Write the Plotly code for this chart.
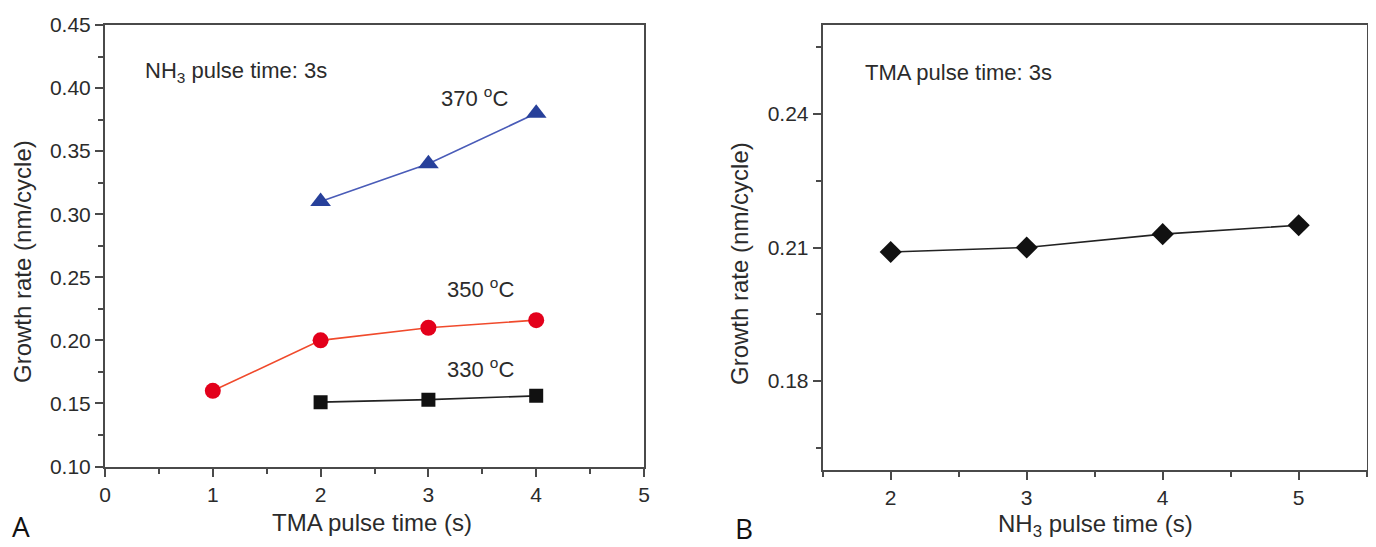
import plotly.graph_objects as go

# Panel A data
tma_x_370 = [2, 3, 4]
rate_370 = [0.31, 0.34, 0.38]
tma_x_350 = [1, 2, 3, 4]
rate_350 = [0.16, 0.20, 0.21, 0.216]
tma_x_330 = [2, 3, 4]
rate_330 = [0.151, 0.153, 0.156]

# Panel B data
nh3_x = [2, 3, 4, 5]
rate_b = [0.209, 0.210, 0.213, 0.215]

FONT = "Liberation Sans, Arial, sans-serif"
TXT = "#2b2b2b"
AX = "#4a4a4a"

fig = go.Figure()
fig.add_trace(go.Scatter(x=tma_x_370, y=rate_370, mode="lines+markers",
                         line=dict(color="#4a5cb8", width=1.6),
                         marker=dict(symbol="triangle-up", size=18, color="#27409a"),
                         xaxis="x", yaxis="y", showlegend=False))
fig.add_trace(go.Scatter(x=tma_x_350, y=rate_350, mode="lines+markers",
                         line=dict(color="#f04a2c", width=1.6),
                         marker=dict(symbol="circle", size=16, color="#e3001b"),
                         xaxis="x", yaxis="y", showlegend=False))
fig.add_trace(go.Scatter(x=tma_x_330, y=rate_330, mode="lines+markers",
                         line=dict(color="#222222", width=1.6),
                         marker=dict(symbol="square", size=14, color="#111111"),
                         xaxis="x", yaxis="y", showlegend=False))
fig.add_trace(go.Scatter(x=nh3_x, y=rate_b, mode="lines+markers",
                         line=dict(color="#222222", width=1.6),
                         marker=dict(symbol="diamond", size=17, color="#111111"),
                         xaxis="x2", yaxis="y2", showlegend=False))

# page body has an 8px margin; compensate
OFF = 8
W, H = 1376 - OFF, 547 - OFF

def px(x):
    return (x - OFF) / W

def py(y):
    return 1 - (y - OFF) / H

dA_x = [px(105), px(644)]
dA_y = [py(466.5), py(25)]
dB_x = [px(822.7), px(1366.7)]
dB_y = [py(470), py(25)]

tickfont = dict(family=FONT, size=21, color=TXT)

def main_axis(**kw):
    d = dict(showline=True, linecolor=AX, linewidth=2, mirror=True,
             ticks="outside", ticklen=8, tickwidth=1.5, tickcolor=AX,
             showgrid=False, zeroline=False, tickfont=tickfont, automargin=False)
    d.update(kw)
    return d

def over_axis(**kw):
    d = dict(showline=False, ticks="inside", ticklen=8, tickwidth=1.5, tickcolor=AX,
             showgrid=False, zeroline=False, showticklabels=False, fixedrange=True,
             automargin=False)
    d.update(kw)
    return d

fig.update_layout(
    template="none",
    width=W, height=H,
    margin=dict(l=0, r=0, t=0, b=0, pad=0),
    paper_bgcolor="white", plot_bgcolor="white",
    font=dict(family=FONT, color=TXT),
    xaxis=main_axis(domain=dA_x, anchor="y", range=[0, 5], dtick=1,
                    minor=dict(ticks="outside", ticklen=5, dtick=0.5, tickcolor=AX, tickwidth=1.5)),
    yaxis=main_axis(domain=dA_y, anchor="x", range=[0.10, 0.45], dtick=0.05, tickformat=".2f",
                    minor=dict(ticks="outside", ticklen=5, dtick=0.025, tickcolor=AX, tickwidth=1.5)),
    xaxis2=main_axis(domain=dB_x, anchor="y2", range=[1.5, 5.5], dtick=1,
                     minor=dict(ticks="outside", ticklen=5, dtick=0.5, tickcolor=AX, tickwidth=1.5)),
    yaxis2=main_axis(domain=dB_y, anchor="x2", range=[0.16, 0.26], tickvals=[0.18, 0.21, 0.24],
                     ticktext=["0.18", "0.21", "0.24"],
                     minor=dict(ticks="outside", ticklen=5, tickvals=[0.165, 0.195, 0.225, 0.255],
                                tickcolor=AX, tickwidth=1.5)),
    xaxis3=over_axis(overlaying="x", anchor="y", side="top", range=[0, 5], dtick=1,
                     minor=dict(ticks="inside", ticklen=5, dtick=0.5, tickcolor=AX, tickwidth=1.5)),
    yaxis3=over_axis(overlaying="y", anchor="x", side="right", range=[0, 10], dtick=1, ticklen=6),
    xaxis4=over_axis(overlaying="x2", anchor="y2", side="top", range=[0, 10], dtick=2,
                     minor=dict(ticks="inside", ticklen=5, dtick=1, tickcolor=AX, tickwidth=1.5)),
    yaxis4=over_axis(overlaying="y2", anchor="x2", side="right", range=[0, 10], dtick=1, ticklen=6),
)

ann_font = dict(family=FONT, size=22, color=TXT)
title_font = dict(family=FONT, size=24, color=TXT)
annotations = [
    dict(x=0.35, y=0.4127, xref="x", yref="y", text="NH<sub>3</sub> pulse time: 3s",
         xanchor="left", yanchor="middle", showarrow=False, font=ann_font),
    dict(x=3.43, y=0.393, xref="x", yref="y", text="370 <sup>o</sup>C",
         xanchor="center", yanchor="middle", showarrow=False, font=ann_font),
    dict(x=3.48, y=0.2413, xref="x", yref="y", text="350 <sup>o</sup>C",
         xanchor="center", yanchor="middle", showarrow=False, font=ann_font),
    dict(x=3.48, y=0.1778, xref="x", yref="y", text="330 <sup>o</sup>C",
         xanchor="center", yanchor="middle", showarrow=False, font=ann_font),
    dict(x=1.796, y=0.2494, xref="x2", yref="y2", text="TMA pulse time: 3s",
         xanchor="left", yanchor="middle", showarrow=False, font=ann_font),
    # axis titles
    dict(x=px(372), y=py(522), xref="paper", yref="paper", text="TMA pulse time (s)",
         xanchor="center", yanchor="middle", showarrow=False, font=title_font),
    dict(x=px(1095), y=py(525), xref="paper", yref="paper", text="NH<sub>3</sub> pulse time (s)",
         xanchor="center", yanchor="middle", showarrow=False, font=title_font),
    dict(x=px(22), y=py(262), xref="paper", yref="paper", text="Growth rate (nm/cycle)",
         textangle=-90, xanchor="center", yanchor="middle", showarrow=False, font=title_font),
    dict(x=px(739), y=py(264), xref="paper", yref="paper", text="Growth rate (nm/cycle)",
         textangle=-90, xanchor="center", yanchor="middle", showarrow=False, font=title_font),
    # panel letters
    dict(x=px(10), y=py(526), xref="paper", yref="paper", text="A",
         xanchor="left", yanchor="middle", showarrow=False,
         font=dict(family="Open Sans, sans-serif", size=28, color="#111111")),
    dict(x=px(733), y=py(528), xref="paper", yref="paper", text="B",
         xanchor="left", yanchor="middle", showarrow=False,
         font=dict(family="Open Sans, sans-serif", size=28, color="#111111")),
]
fig.update_layout(annotations=annotations)

fig.write_html("out.html")
